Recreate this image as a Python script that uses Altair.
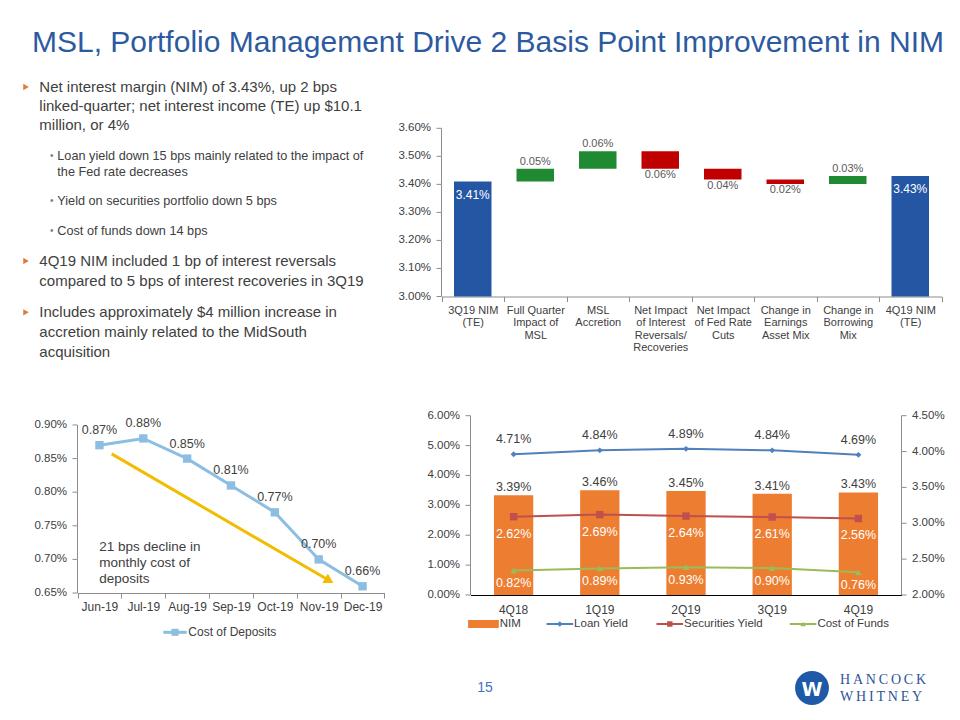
import altair as alt
import pandas as pd

FONT = "Liberation Sans"
TXT = "#404040"
TITLE_BLUE = "#2D5A9F"
WF_BLUE = "#2456A4"
WF_GREEN = "#1F8A32"
WF_RED = "#C00000"
CD_BLUE = "#8CBEE2"
YEL = "#F2BC00"
ORANGE = "#ED7D31"
LOAN_C = "#4F81BD"
SEC_C = "#C0504D"
COF_C = "#9BBB59"
AXC = "#8C8C8C"

# ---------------- data ----------------
title_text = "MSL, Portfolio Management Drive 2 Basis Point Improvement in NIM"
bullet1 = ["Net interest margin (NIM) of 3.43%, up 2 bps",
           "linked-quarter; net interest income (TE) up $10.1",
           "million, or 4%"]
sub_bullets = [["Loan yield down 15 bps mainly related to the impact of",
                "the Fed rate decreases"],
               ["Yield on securities portfolio down 5 bps"],
               ["Cost of funds down 14 bps"]]
bullet2 = ["4Q19 NIM included 1 bp of interest reversals",
           "compared to 5 bps of interest recoveries in 3Q19"]
bullet3 = ["Includes approximately $4 million increase in",
           "accretion mainly related to the MidSouth",
           "acquisition"]

wf_categories = ["3Q19 NIM|(TE)", "Full Quarter|Impact of|MSL", "MSL|Accretion",
                 "Net Impact|of Interest|Reversals/|Recoveries", "Net Impact|of Fed Rate|Cuts",
                 "Change in|Earnings|Asset Mix", "Change in|Borrowing|Mix", "4Q19 NIM|(TE)"]
nim_start = 3.41
wf_deltas = [0.046, 0.062, -0.062, -0.039, -0.016, 0.029]
nim_end = 3.43
wf_ticks = [3.0, 3.1, 3.2, 3.3, 3.4, 3.5, 3.6]

months = ["Jun-19", "Jul-19", "Aug-19", "Sep-19", "Oct-19", "Nov-19", "Dec-19"]
cost_of_deposits = [0.87, 0.88, 0.85, 0.81, 0.77, 0.70, 0.66]
cod_ticks = [0.65, 0.70, 0.75, 0.80, 0.85, 0.90]

quarters = ["4Q18", "1Q19", "2Q19", "3Q19", "4Q19"]
nim = [3.39, 3.46, 3.45, 3.41, 3.43]
loan_yield = [4.71, 4.84, 4.89, 4.84, 4.69]
securities_yield = [2.62, 2.69, 2.64, 2.61, 2.56]
cost_of_funds = [0.82, 0.89, 0.93, 0.90, 0.76]
left_ticks = [0, 1, 2, 3, 4, 5, 6]
right_ticks = [2.0, 2.5, 3.0, 3.5, 4.0, 4.5]

# ---------------- layout (view pixels) ----------------
W, H = 944, 704
WF_X, WF_Y = [433.5, 933.5], [288.5, 120.3]
L_X, L_Y = [69.5, 376.5], [585.0, 417.0]
C_X, C_Y = [462.5, 893.5], [587.0, 407.7]

ONE = pd.DataFrame({"k": [0]})


def txt(text, x, y, size, color=TXT, align="left", font=FONT, weight="normal", baseline="middle"):
    return alt.Chart(ONE).mark_text(text=text, align=align, baseline=baseline, fontSize=size,
                                    color=color, font=font, fontWeight=weight).encode(
        x=alt.value(x), y=alt.value(y))


def y_axis_layers(values, scale, xpx, side="left"):
    """Axis line, ticks and tick labels placed through the chart's own y scale."""
    d = pd.DataFrame({"v": values, "lab": [f"{v:.2f}%" for v in values]})
    sgn = -1 if side == "left" else 1
    yy = alt.Y("v:Q", scale=scale, axis=None)
    dom = alt.Chart(d).mark_line(color=AXC, strokeWidth=1).encode(x=alt.value(xpx), y=yy)
    ticks = alt.Chart(d).mark_rule(color=AXC, strokeWidth=1).encode(
        x=alt.value(xpx + sgn * 5), x2=alt.value(xpx), y=yy)
    labs = alt.Chart(d).mark_text(align="right" if side == "left" else "left", baseline="middle",
                                  fontSize=11.5, color=TXT, font=FONT).encode(
        x=alt.value(xpx + sgn * 10.5), y=yy, text="lab:N")
    return [dom, ticks, labs]


# ---------------- text panel ----------------
layers = [txt(title_text, 24, 44, 30, color=TITLE_BLUE, baseline="alphabetic")]
for yy in [79, 253, 304.3]:
    layers.append(alt.Chart(ONE).mark_point(shape="triangle-right", filled=True, size=40,
                                            color="#E07B39", opacity=1).encode(
        x=alt.value(18), y=alt.value(yy)))
for i, line in enumerate(bullet1):
    layers.append(txt(line, 31.3, 78.7 + i * 19, 15))
sub_y = [[148, 163.7], [192.7], [223]]
for lines, ys in zip(sub_bullets, sub_y):
    layers.append(txt("\u2022", 42, ys[0], 10, color="#7F7F7F"))
    for line, yy in zip(lines, ys):
        layers.append(txt(line, 49.3, yy, 12.7))
for i, line in enumerate(bullet2):
    layers.append(txt(line, 31.3, 253 + i * 19.7, 15))
for i, line in enumerate(bullet3):
    layers.append(txt(line, 31.3, 304.3 + i * 19.7, 15))

# ---------------- waterfall ----------------
rows = [dict(cat=wf_categories[0], lo=3.0, hi=nim_start, kind="total", amt=nim_start)]
run = nim_start
for c, d in zip(wf_categories[1:-1], wf_deltas):
    rows.append(dict(cat=c, lo=min(run, run + d), hi=max(run, run + d),
                     kind="up" if d > 0 else "down", amt=abs(d)))
    run += d
rows.append(dict(cat=wf_categories[-1], lo=3.0, hi=nim_end, kind="total", amt=nim_end))
wf = pd.DataFrame(rows)
wf["label"] = [f"{v:.2f}%" for v in wf["amt"]]

wf_y_scale = alt.Scale(domain=[3.0, 3.6], range=WF_Y, nice=False, zero=False)
wf_x = alt.X("cat:N", sort=wf_categories,
             scale=alt.Scale(paddingInner=0, paddingOuter=0, range=WF_X),
             axis=alt.Axis(orient="bottom", offset=WF_Y[0] - H,
                           labelExpr="split(datum.label, '|')", labelAngle=0, tickBand="extent",
                           domainColor=AXC, tickColor=AXC, tickSize=5, labelFontSize=11,
                           labelColor=TXT, labelLineHeight=12.3, labelPadding=3,
                           labelBaseline="top", title=None))
wbase = alt.Chart(wf).encode(x=wf_x)
wbars = wbase.mark_bar(width=alt.RelativeBandSize(0.6)).encode(
    y=alt.Y("lo:Q", scale=wf_y_scale, axis=None), y2="hi:Q",
    color=alt.Color("kind:N", scale=alt.Scale(domain=["total", "up", "down"],
                                              range=[WF_BLUE, WF_GREEN, WF_RED]), legend=None))
w_tot = wbase.transform_filter("datum.kind == 'total'").mark_text(dy=13, color="white", fontSize=12).encode(
    y=alt.Y("hi:Q", scale=wf_y_scale, axis=None), text="label:N")
w_up = wbase.transform_filter("datum.kind == 'up'").mark_text(dy=-7, color="#595959", fontSize=11).encode(
    y=alt.Y("hi:Q", scale=wf_y_scale, axis=None), text="label:N")
w_dn = wbase.transform_filter("datum.kind == 'down'").mark_text(dy=6, color="#595959", fontSize=11).encode(
    y=alt.Y("lo:Q", scale=wf_y_scale, axis=None), text="label:N")
waterfall = alt.layer(wbars, w_tot, w_up, w_dn,
                      *y_axis_layers(wf_ticks, wf_y_scale, WF_X[0], "left"))

# ---------------- cost of deposits line ----------------
ld = pd.DataFrame({"month": months, "value": cost_of_deposits})
ld["label"] = [f"{v:.2f}%" for v in cost_of_deposits]
ly_scale = alt.Scale(domain=[0.65, 0.90], range=L_Y, nice=False, zero=False)
lx = alt.X("month:N", sort=months, scale=alt.Scale(paddingInner=0, paddingOuter=0, range=L_X),
           axis=alt.Axis(orient="bottom", offset=L_Y[0] - H, labelAngle=0, tickBand="extent",
                         domainColor=AXC, tickColor=AXC, tickSize=5, labelFontSize=12,
                         labelColor=TXT, labelPadding=3, title=None))
lbase = alt.Chart(ld).encode(x=lx, y=alt.Y("value:Q", scale=ly_scale, axis=None))
lline = lbase.mark_line(color=CD_BLUE, strokeWidth=3)
lpts = lbase.mark_point(shape="square", filled=True, size=70, opacity=1, color=CD_BLUE)
llbl = lbase.mark_text(dy=-15, fontSize=12.5, color=TXT).encode(text="label:N")
lmain = alt.layer(lline, lpts, llbl, *y_axis_layers(cod_ticks, ly_scale, L_X[0], "left"))

arrow_df = pd.DataFrame({"ax": [0.78, 5.74], "ay": [0.857, 0.6685], "o": [0, 1]})
ax_scale = alt.Scale(domain=[0, 7], range=L_X, nice=False, zero=False)
a_line = alt.Chart(arrow_df).mark_line(color=YEL, strokeWidth=3).encode(
    x=alt.X("ax:Q", scale=ax_scale, axis=None),
    y=alt.Y("ay:Q", scale=ly_scale, axis=None), order="o:Q")
a_head = alt.Chart(arrow_df).transform_filter("datum.o == 1").mark_point(
    shape="triangle-right", filled=True, size=120, angle=30, color=YEL, opacity=1).encode(
    x=alt.X("ax:Q", scale=ax_scale, axis=None),
    y=alt.Y("ay:Q", scale=ly_scale, axis=None))
l_arrow = alt.layer(a_line, a_head)
line_chart = alt.layer(lmain, l_arrow).resolve_scale(x="independent")

layers += [txt(t, 91.3, yy, 13.5) for t, yy in zip(["21 bps decline in", "monthly cost of", "deposits"],
                                                    [538.7, 554.9, 571.1])]
LLY = 624.3
layers += [
    alt.Chart(ONE).mark_rule(color=CD_BLUE, strokeWidth=3).encode(
        x=alt.value(155.3), x2=alt.value(178.7), y=alt.value(LLY)),
    alt.Chart(ONE).mark_point(shape="square", filled=True, size=50, color=CD_BLUE, opacity=1).encode(
        x=alt.value(167), y=alt.value(LLY)),
    txt("Cost of Deposits", 180.3, LLY, 12),
]

# ---------------- combo chart ----------------
cd = pd.DataFrame({"q": quarters, "nim": nim, "loan": loan_yield, "sec": securities_yield,
                   "cof": cost_of_funds})
for f in ["nim", "loan", "sec", "cof"]:
    cd[f + "_l"] = [f"{v:.2f}%" for v in cd[f]]
cx = alt.X("q:N", sort=quarters, scale=alt.Scale(paddingInner=0, paddingOuter=0, range=C_X),
           axis=alt.Axis(orient="bottom", offset=C_Y[0] - H, ticks=False, labelAngle=0,
                         domainColor="#000000", labelPadding=9, labelFontSize=12,
                         labelColor=TXT, title=None))
rs = alt.Scale(domain=[2.0, 4.5], range=C_Y, nice=False, zero=False)
ls = alt.Scale(domain=[0.0, 6.0], range=C_Y, nice=False, zero=True)

cbase = alt.Chart(cd).encode(x=cx)
c_bars = cbase.mark_bar(width=alt.RelativeBandSize(0.456), color=ORANGE).encode(
    y=alt.Y("nim:Q", scale=rs, axis=None), y2=alt.datum(2.0))
c_blbl = cbase.mark_text(dy=-8, fontSize=12.5, color=TXT).encode(
    y=alt.Y("nim:Q", scale=rs, axis=None), text="nim_l:N")
bars_grp = alt.layer(c_bars, c_blbl, *y_axis_layers(right_ticks, rs, C_X[1], "right"))

series_spec = [("loan", LOAN_C, "diamond", 35, -15, TXT),
               ("sec", SEC_C, "square", 55, 17, "white"),
               ("cof", COF_C, "triangle-up", 45, 13, "white")]
line_layers = y_axis_layers(left_ticks, ls, C_X[0], "left")
for f, col, shp, sz, dy, lc in series_spec:
    yy = alt.Y(f + ":Q", scale=ls, axis=None)
    line_layers.append(cbase.mark_line(color=col, strokeWidth=2).encode(y=yy))
    line_layers.append(cbase.mark_point(shape=shp, filled=True, size=sz, color=col, opacity=1).encode(y=yy))
for f, col, shp, sz, dy, lc in series_spec:
    line_layers.append(cbase.mark_text(dy=dy, fontSize=12.5, color=lc).encode(
        y=alt.Y(f + ":Q", scale=ls, axis=None), text=f + "_l:N"))
lines_grp = alt.layer(*line_layers)
combo = alt.layer(bars_grp, lines_grp).resolve_scale(y="independent")

CLY = 616.0
cx0 = C_X[0]
layers += [
    alt.Chart(ONE).mark_rule(color=ORANGE, strokeWidth=8, strokeCap="butt").encode(
        x=alt.value(cx0 - 2.4), x2=alt.value(cx0 + 28.3), y=alt.value(CLY)),
    txt("NIM", cx0 + 29.3, CLY, 11.5),
]
for x0, col, shp, label in [(76, LOAN_C, "diamond", "Loan Yield"),
                            (186, SEC_C, "square", "Securities Yield"),
                            (319.3, COF_C, "triangle-up", "Cost of Funds")]:
    layers.append(alt.Chart(ONE).mark_rule(color=col, strokeWidth=2).encode(
        x=alt.value(cx0 + x0), x2=alt.value(cx0 + x0 + 26.6), y=alt.value(CLY)))
    layers.append(alt.Chart(ONE).mark_point(shape=shp, filled=True, size=30, color=col, opacity=1).encode(
        x=alt.value(cx0 + x0 + 13.3), y=alt.value(CLY)))
    layers.append(txt(label, cx0 + x0 + 27.6, CLY, 11.5))

# ---------------- footer ----------------
layers += [
    txt("15", 477, 680, 14, color="#4472C4", align="center"),
    alt.Chart(ONE).mark_point(shape="circle", filled=True, size=1150, color="#1E5AA8", opacity=1).encode(
        x=alt.value(804), y=alt.value(680)),
    txt("W", 804, 681.5, 19, color="white", align="center", font="DejaVu Sans", weight="bold"),
    txt("H\u2009A\u2009N\u2009C\u2009O\u2009C\u2009K", 832, 672, 14, color="#2F5597",
        font="Liberation Serif"),
    txt("W\u2009H\u2009I\u2009T\u2009N\u2009E\u2009Y", 832, 689, 14, color="#2F5597",
        font="Liberation Serif"),
]

chart = alt.layer(waterfall, line_chart, combo, *layers).resolve_scale(
    x="independent", y="independent"
).properties(
    width=W, height=H, padding={"left": 0, "top": 0, "right": 0, "bottom": 0}
).configure(font=FONT).configure_view(stroke=None).configure_axis(labelFont=FONT)

chart.save("out.html", embed_options={"renderer": "svg", "actions": False})
